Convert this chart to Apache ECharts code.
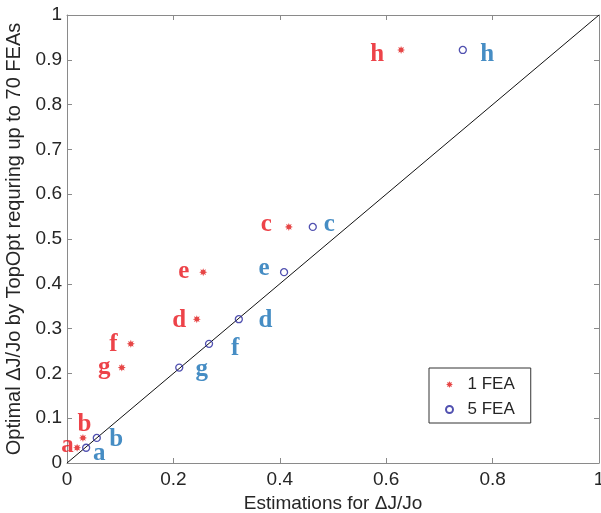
<!DOCTYPE html>
<html>
<head>
<meta charset="utf-8">
<script src="https://cdn.jsdelivr.net/npm/echarts@6/dist/echarts.min.js"></script>
<style>
html,body{margin:0;padding:0;background:#fff;}
#chart{width:601px;height:513px;}
</style>
</head>
<body>
<div id="chart"></div>
<script>
// case labels
var cases = ['a','b','c','d','e','f','g','h'];
// optimal dJ/Jo (TopOpt, up to 70 FEAs)
var optimal = [0.034,0.056,0.527,0.321,0.426,0.266,0.213,0.922];
// estimations with 1 FEA and 5 FEA
var est1 = [0.019,0.030,0.417,0.244,0.256,0.120,0.103,0.628];
var est5 = [0.036,0.056,0.462,0.323,0.408,0.267,0.211,0.744];
// reference line y = x
var diag = [0,1];
var xTicks = [0,0.2,0.4,0.6,0.8,1];
var yTicks = [0,0.1,0.2,0.3,0.4,0.5,0.6,0.7,0.8,0.9,1];

// where each letter sits relative to its marker (px)
var off1 = [[-9.5,-2],[1.5,-13],[-22.5,-2],[-17.5,1],[-19.5,-1],[-17.5,1],[-17.5,0],[-24,5]];
var off5 = [[13,6],[19.5,2],[16.5,-2],[26.5,1],[-20,-4],[26,5],[22.5,2],[24.5,5]];

var star = 'path://M0,-10 L2,-4.8 L7.07,-7.07 L4.8,-2 L10,0 L4.8,2 L7.07,7.07 L2,4.8 L0,10 L-2,4.8 L-7.07,7.07 L-4.8,2 L-10,0 L-4.8,-2 L-7.07,-7.07 L-2,-4.8 Z';

function pts(xs,offs){
	var out = [];
	for(var i=0;i<cases.length;i++){
		out.push({name:cases[i], value:[xs[i],optimal[i]], label:{offset:offs[i]}});
	}
	return out;
}

var axisCol = '#8a8a8a';
var txtCol = '#262626';
var sans = 'Liberation Sans, Arial, sans-serif';

function xax(pos,show){
	return {
		type:'value', position:pos, min:xTicks[0], max:xTicks[xTicks.length-1], interval:0.2,
		axisLine:{show:true,onZero:false,lineStyle:{color:axisCol,width:1}},
		axisTick:{show:true,inside:true,length:5,lineStyle:{color:axisCol}},
		axisLabel:{show:show,color:txtCol,fontSize:19,fontFamily:sans,margin:7},
		splitLine:{show:false},
		name:show?'Estimations for \u0394J/Jo':'', nameLocation:'middle', nameGap:28,
		nameTextStyle:{color:txtCol,fontSize:19,fontFamily:sans}
	};
}
function yax(pos,show){
	return {
		type:'value', position:pos, min:yTicks[0], max:yTicks[yTicks.length-1], interval:0.1,
		axisLine:{show:true,onZero:false,lineStyle:{color:axisCol,width:1}},
		axisTick:{show:true,inside:true,length:5,lineStyle:{color:axisCol}},
		axisLabel:{show:show,color:txtCol,fontSize:19,fontFamily:sans,margin:5},
		splitLine:{show:false},
		name:show?'Optimal \u0394J/Jo by TopOpt requring up to 70 FEAs':'', nameLocation:'middle', nameGap:42,
		nameTextStyle:{color:txtCol,fontSize:20,fontFamily:sans}
	};
}

var myChart = echarts.init(document.getElementById('chart'));
var option = {
	animation:false,
	backgroundColor:'#fff',
	grid:{left:67,right:2,top:15,bottom:50,containLabel:false,outerBoundsMode:'none'},
	xAxis:[xax('bottom',true), xax('top',false)],
	yAxis:[yax('left',true), yax('right',false)],
	legend:{
		data:['1 FEA','5 FEA'],
		orient:'vertical',
		left:429, top:368,
		padding:[8,16,5,16],
		itemGap:8,
		itemWidth:26, itemHeight:7,
		borderColor:'#333', borderWidth:1,
		backgroundColor:'#fff',
		textStyle:{color:txtCol,fontSize:17,fontFamily:sans}
	},
	series:[
		{
			name:'diag', type:'line', silent:true, showSymbol:false,
			data:[[diag[0],diag[0]],[diag[1],diag[1]]],
			lineStyle:{color:'#111',width:1}, z:1
		},
		{
			name:'1 FEA', type:'scatter', symbol:star, symbolSize:8,
			itemStyle:{color:'#e01818'},
			label:{show:true,position:'inside',formatter:'{b}',color:'#e8141b',
				fontFamily:'Liberation Serif, Times New Roman, serif',fontWeight:'bold',fontSize:25},
			data:pts(est1,off1), z:3
		},
		{
			name:'5 FEA', type:'scatter', symbol:'circle', symbolSize:7,
			itemStyle:{color:'rgba(0,0,0,0)',borderColor:'#25259c',borderWidth:1.3},
			label:{show:true,position:'inside',formatter:'{b}',color:'#1870b5',
				fontFamily:'Liberation Serif, Times New Roman, serif',fontWeight:'bold',fontSize:25},
			data:pts(est5,off5), z:3
		}
	]
};
myChart.setOption(option);
</script>
</body>
</html>
